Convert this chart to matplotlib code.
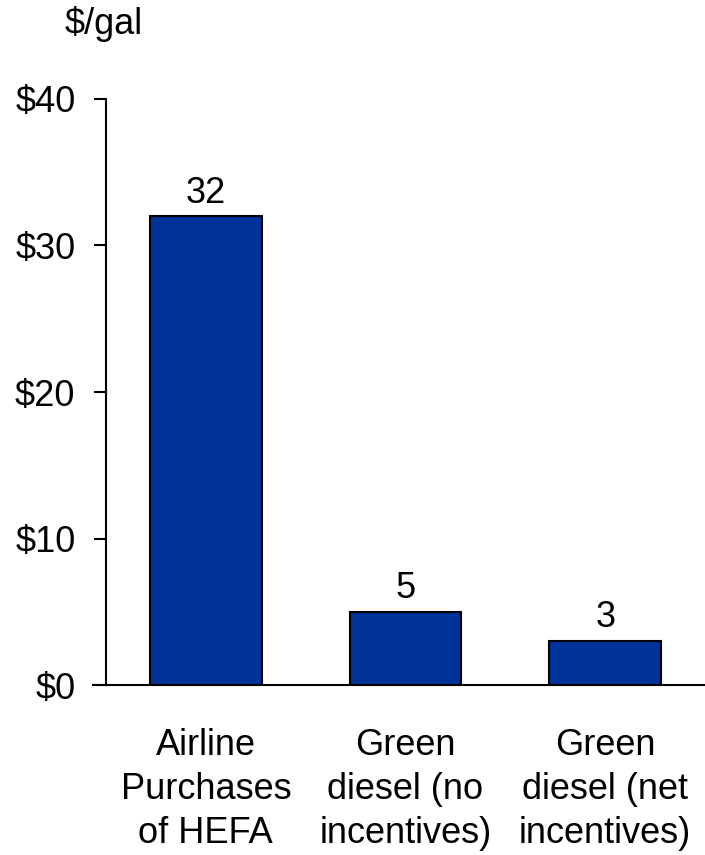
import matplotlib.pyplot as plt

plt.rcParams['font.family'] = ['Liberation Sans', 'DejaVu Sans']

categories = ['Airline\nPurchases\nof HEFA', 'Green\ndiesel (no\nincentives)', 'Green\ndiesel (net\nincentives)']
values = [32, 5, 3]
yticks = [0, 10, 20, 30, 40]
ytick_labels = ['$0', '$10', '$20', '$30', '$40']

fig = plt.figure(figsize=(7.05, 8.55), dpi=100)
ax = fig.add_axes([106 / 705, 170 / 855, 599 / 705, 586 / 855])

x = range(len(values))
bars = ax.bar(x, values, width=0.56, color='#003399', edgecolor='black', linewidth=1.5, zorder=2)

for xi, v in zip(x, values):
    ax.annotate(str(v), (xi, v), xytext=(0, 4), textcoords='offset points',
                ha='center', va='bottom', fontsize=26)

ax.set_xlim(-0.5, 2.5)
ax.set_ylim(0, 40)
ax.set_yticks(yticks)
ax.set_yticklabels(ytick_labels, fontsize=26)
ax.set_xticks(list(x))
ax.set_xticklabels(categories, fontsize=26, linespacing=1.33)
ax.tick_params(axis='x', length=0, pad=31)
ax.tick_params(axis='y', length=9, width=1.5, direction='out', pad=13)

for side in ['top', 'right']:
    ax.spines[side].set_visible(False)
ax.spines['left'].set_linewidth(1.5)
ax.spines['bottom'].set_linewidth(1.5)
ax.spines['bottom'].set_bounds(-0.565, 2.5)
ax.spines['bottom'].set_clip_on(False)

fig.text(65 / 705, 1 - 24 / 855, '$/gal', fontsize=26, ha='left', va='center')

fig.savefig('out.png', dpi=100)
